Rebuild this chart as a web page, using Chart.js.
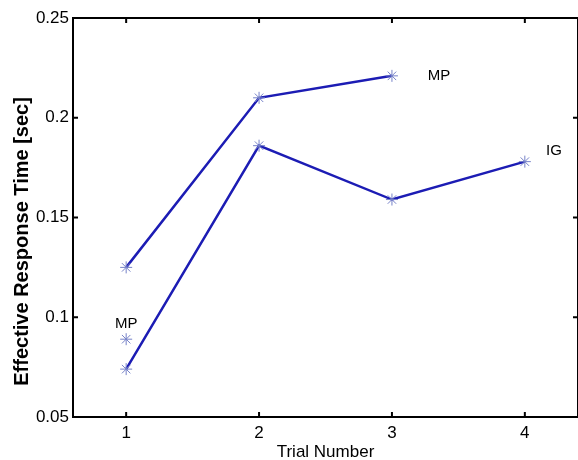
<!DOCTYPE html>
<html>
<head>
<meta charset="utf-8">
<script src="https://cdn.jsdelivr.net/npm/chart.js@4/dist/chart.umd.min.js"></script>
<style>
  html, body { margin: 0; padding: 0; background: #fff; overflow: hidden; }
  #wrap { width: 585px; height: 460px; }
</style>
</head>
<body>
<div id="wrap"><canvas id="rtChart" width="585" height="460"></canvas></div>
<script>
// trial numbers and effective response times
const trials = [1, 2, 3, 4];
const mpTimes = [0.125, 0.210, 0.221];
const igTimes = [0.074, 0.186, 0.159, 0.178];
const mpSingle = [0.089];

// axis ticks
const xTicks = [1, 2, 3, 4];
const yTicks = [0.05, 0.1, 0.15, 0.2, 0.25];
const yTickLabels = ['0.05', '0.1', '0.15', '0.2', '0.25'];

// text annotations (data coordinates)
const noteText = ['MP', 'IG', 'MP'];
const noteX = [3.27, 4.16, 1.0];
const noteY = [0.221, 0.1835, 0.0965];

const lineBlue = '#1c1cb4';
const markBlue = '#7682c8';
const font = 'Arial, "Liberation Sans", sans-serif';

function toPoints(xs, ys) {
    return ys.map((y, i) => ({ x: xs[i], y: y }));
}

// draws the boxed axes with inward ticks, the y title and the text notes, matlab style
const matlabBox = {
    id: 'matlabBox',
    afterDraw(chart) {
        const ctx = chart.ctx;
        const a = chart.chartArea;
        const xs = chart.scales.x, ys = chart.scales.y;
        ctx.save();
        ctx.strokeStyle = '#000';
        ctx.lineWidth = 2;
        ctx.strokeRect(a.left, a.top, a.right - a.left, a.bottom - a.top);
        ctx.beginPath();
        xTicks.forEach(v => {
            const px = xs.getPixelForValue(v);
            ctx.moveTo(px, a.bottom); ctx.lineTo(px, a.bottom - 5);
            ctx.moveTo(px, a.top); ctx.lineTo(px, a.top + 5);
        });
        yTicks.forEach(v => {
            const py = ys.getPixelForValue(v);
            ctx.moveTo(a.left, py); ctx.lineTo(a.left + 5, py);
            ctx.moveTo(a.right, py); ctx.lineTo(a.right - 5, py);
        });
        ctx.stroke();

        ctx.fillStyle = '#000';
        ctx.font = '15px ' + font;
        ctx.textBaseline = 'middle';
        noteText.forEach((t, i) => {
            ctx.textAlign = i === 2 ? 'center' : 'left';
            ctx.fillText(t, xs.getPixelForValue(noteX[i]), ys.getPixelForValue(noteY[i]));
        });

        // y axis title sits a little below the middle of the axis in the original
        ctx.translate(22, ys.getPixelForValue(0.138));
        ctx.rotate(-Math.PI / 2);
        ctx.font = 'bold 20px ' + font;
        ctx.textAlign = 'center';
        ctx.fillText('Effective Response Time [sec]', 0, 0);
        ctx.restore();
    }
};

const ctx = document.getElementById('rtChart').getContext('2d');
new Chart(ctx, {
    type: 'scatter',
    data: {
        datasets: [
            {
                data: toPoints(trials, mpTimes),
                showLine: true,
                borderColor: lineBlue,
                borderWidth: 2.5,
                pointStyle: 'star',
                pointRadius: 6,
                pointBorderColor: markBlue,
                pointBorderWidth: 1,
                pointBackgroundColor: markBlue
            },
            {
                data: toPoints(trials, igTimes),
                showLine: true,
                borderColor: lineBlue,
                borderWidth: 2.5,
                pointStyle: 'star',
                pointRadius: 6,
                pointBorderColor: markBlue,
                pointBorderWidth: 1,
                pointBackgroundColor: markBlue
            },
            {
                data: toPoints(trials, mpSingle),
                showLine: false,
                pointStyle: 'star',
                pointRadius: 6,
                pointBorderColor: markBlue,
                pointBorderWidth: 1,
                pointBackgroundColor: markBlue
            }
        ]
    },
    plugins: [matlabBox],
    options: {
        responsive: false,
        animation: false,
        events: [],
        layout: { padding: { top: 18, right: 5, left: 0, bottom: 0 } },
        plugins: {
            legend: { display: false },
            tooltip: { enabled: false }
        },
        scales: {
            x: {
                type: 'linear',
                min: 0.6,
                max: 4.4,
                afterBuildTicks: s => { s.ticks = xTicks.map(v => ({ value: v })); },
                afterFit: s => { s.height = 43; },
                grid: { display: false, drawTicks: false },
                border: { display: false },
                ticks: {
                    color: '#000',
                    font: { family: font, size: 17 },
                    padding: 6,
                    callback: v => String(v)
                },
                title: {
                    display: true,
                    text: 'Trial Number',
                    color: '#000',
                    font: { family: font, size: 17, lineHeight: 1 },
                    padding: { top: 0, bottom: -1 }
                }
            },
            y: {
                type: 'linear',
                min: 0.05,
                max: 0.25,
                afterBuildTicks: s => { s.ticks = yTicks.map(v => ({ value: v })); },
                afterFit: s => { s.width = 73; },
                grid: { display: false, drawTicks: false },
                border: { display: false },
                ticks: {
                    color: '#000',
                    font: { family: font, size: 17 },
                    padding: 4,
                    callback: (v, i) => yTickLabels[i]
                }
            }
        }
    }
});
</script>
</body>
</html>
